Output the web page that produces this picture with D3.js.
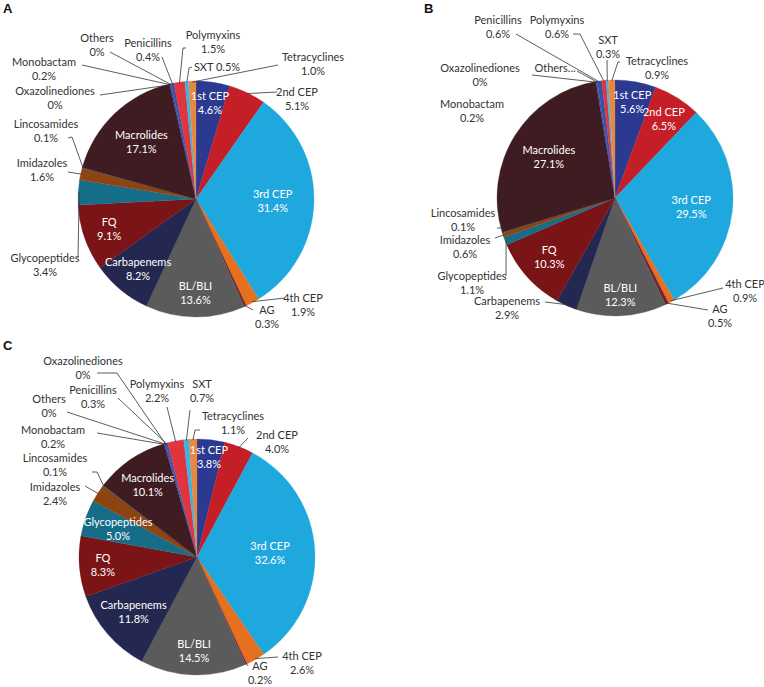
<!DOCTYPE html>
<html><head><meta charset="utf-8">
<script src="https://cdn.jsdelivr.net/npm/d3@7"></script>
<style>
body{margin:0;background:#fff;}
text{font-family:Lato,"Open Sans",sans-serif;font-size:11px;}
</style></head>
<body><svg id="chart" width="764" height="687"></svg>
<script>
// ---- data ----
const categories = ["1st CEP","2nd CEP","3rd CEP","4th CEP","AG","BL/BLI","Carbapenems","FQ",
  "Glycopeptides","Imidazoles","Lincosamides","Macrolides","Monobactam","Oxazolinediones","Others",
  "Penicillins","Polymyxins","SXT","Tetracyclines"];
const valuesA = [4.6,5.1,31.4,1.9,0.3,13.6,8.2,9.1,3.4,1.6,0.1,17.1,0.2,0,0,0.4,1.5,0.5,1.0];
const valuesB = [5.6,6.5,29.5,0.9,0.5,12.3,2.9,10.3,1.1,0.6,0.1,27.1,0.2,0,0,0.6,0.6,0.3,0.9];
const valuesC = [3.8,4.0,32.6,2.6,0.2,14.5,11.8,8.3,5.0,2.4,0.1,10.1,0.2,0,0,0.3,2.2,0.7,1.1];
const panelLetters = ["A","B","C"];
const colors = ["#2b3990","#c41e26","#1fa8de","#e5701f","#6d2434","#5b5b5b","#242850","#7b1416",
  "#166d88","#8c4413","#4a4a4a","#3e1c21","#3b4aa0","#c41e26","#1fa8de","#3b50a5","#e0353e","#35b6e8","#e8873f"];

// ---- label layout (offsets from pie centre) ----
const R = 118;
const panels = [
 {letter:"A", values:valuesA, c:[196,199], lp:[3,13],
  inner:[["1st CEP",0.82],["3rd CEP",0.65],["Macrolides",0.67],["FQ",0.78],["Carbapenems",0.77],["BL/BLI",0.8]],
  outer:[
   {n:"Others",t:[-99,-154],p:[[-86,-147]]},
   {n:"Penicillins",t:[-48,-149],p:[[-34,-142]]},
   {n:"Polymyxins",t:[17,-157],p:[[-10,-151],[-13,-151]]},
   {n:"SXT",t:[21,-132],one:true,p:[[-4,-132],[-7,-131]]},
   {n:"Tetracyclines",t:[117,-135],p:[[82,-134]]},
   {n:"2nd CEP",t:[101,-100],p:[[81,-107]]},
   {n:"Monobactam",t:[-152,-130],p:[[-114,-134]]},
   {n:"Oxazolinediones",t:[-141,-101],p:[[-96,-104]]},
   {n:"Lincosamides",t:[-150,-68],p:[[-128,-61],[-124,-62]]},
   {n:"Imidazoles",t:[-154,-29],p:[[-128,-27]]},
   {n:"Glycopeptides",t:[-151,66],p:[[-118,59]]},
   {n:"4th CEP",t:[107,106],p:[[89,99]]},
   {n:"AG",t:[71,118],p:[[57,111]]}
  ]},
 {letter:"B", values:valuesB, c:[615,198], lp:[424,13],
  inner:[["1st CEP",0.83],["2nd CEP",0.785],["Macrolides",0.66],["3rd CEP",0.65],["FQ",0.75],["BL/BLI",0.82]],
  outer:[
   {n:"Penicillins",t:[-117,-171],p:[[-99,-164]]},
   {n:"Polymyxins",t:[-58,-171],p:[[-42,-164],[-35,-164]]},
   {n:"SXT",t:[-7,-151],p:[[-8,-138]]},
   {n:"Tetracyclines",t:[42,-130],p:[[5,-136],[3,-136]]},
   {n:"Oxazolinediones",t:[-135,-123],p:[[-83,-123]]},
   {n:"Others",label:"Others...",t:[-60,-130],one:true,p:[[-38,-127]]},
   {n:"Monobactam",t:[-143,-87],p:null},
   {n:"Lincosamides",t:[-152,22],p:[[-118,30],[-113,30]]},
   {n:"Imidazoles",t:[-150,49],p:[[-120,40]]},
   {n:"Glycopeptides",t:[-143,85],p:[[-109,78]]},
   {n:"Carbapenems",t:[-108,110],p:[[-70,104]]},
   {n:"4th CEP",t:[130,93],p:[[108,90]]},
   {n:"AG",t:[105,118],p:[[93,112]]}
  ]},
 {letter:"C", values:valuesC, c:[197,557], lp:[3,350],
  inner:[["1st CEP",0.85],["Macrolides",0.74],["Glycopeptides",0.71],["FQ",0.8],["3rd CEP",0.62],["Carbapenems",0.71],["BL/BLI",0.8]],
  outer:[
   {n:"Oxazolinediones",t:[-114,-189],p:[[-100,-184],[-80,-184]]},
   {n:"Penicillins",t:[-104,-160],p:[[-79,-159]]},
   {n:"Others",t:[-148,-151],p:[[-130,-145]]},
   {n:"Monobactam",t:[-144,-120],p:[[-100,-124]]},
   {n:"Polymyxins",t:[-40,-166],p:[[-30,-150]]},
   {n:"SXT",t:[5,-166],p:[[-7,-147]]},
   {n:"Tetracyclines",t:[36,-134],p:[[3,-127],[-2,-127]]},
   {n:"2nd CEP",t:[80,-115],p:[[51,-119]]},
   {n:"Lincosamides",t:[-142,-92],p:[[-105,-85],[-100,-85]]},
   {n:"Imidazoles",t:[-142,-63],p:[[-112,-71]]},
   {n:"4th CEP",t:[105,106],p:[[81,100]]},
   {n:"AG",t:[63,116],p:[[51,109]]}
  ]}
];

const fmt = v => v === 0 ? "0%" : v.toFixed(1) + "%";
const svg = d3.select("#chart");
const arc = d3.arc().innerRadius(0).outerRadius(R);
const polar = (a, rr) => [rr*Math.sin(a), -rr*Math.cos(a)];
const midA = d => (d.startAngle + d.endAngle)/2;

panels.forEach(P => {
  svg.append("text").attr("x",P.lp[0]).attr("y",P.lp[1])
    .style("font-family","'Liberation Sans',Arial,sans-serif").style("font-weight","bold").style("font-size","13px")
    .attr("fill","#111").text(P.letter);
  const g = svg.append("g").attr("transform",`translate(${P.c[0]},${P.c[1]})`);
  const arcs = d3.pie().sort(null).value(d=>d)(P.values);
  g.selectAll("path.slice").data(arcs).join("path").attr("class","slice")
    .attr("d",arc).attr("fill",(d,i)=>colors[i]).attr("stroke",(d,i)=>d.value>0?colors[i]:"none").attr("stroke-width",0.3);

  // inner labels
  P.inner.forEach(([name,k]) => {
    const i = categories.indexOf(name);
    const [x,y] = polar(midA(arcs[i]), k*R);
    const t = g.append("text").attr("text-anchor","middle").attr("fill","#fff");
    t.append("tspan").attr("x",x).attr("y",y-3).text(name);
    t.append("tspan").attr("x",x).attr("y",y+11).text(fmt(P.values[i]));
  });

  // outer labels with leader lines
  P.outer.forEach(o => {
    const i = categories.indexOf(o.n);
    if (o.p) {
      const end = polar(midA(arcs[i]), R-1);
      const pts = o.p.concat([end]);
      g.append("path").attr("d", d3.line()(pts)).attr("fill","none")
        .attr("stroke","#333").attr("stroke-width",0.8);
    }
    const t = g.append("text").attr("text-anchor","middle").attr("fill","#333");
    if (o.one) {
      const lbl = o.label || (o.n + " " + fmt(P.values[i]));
      t.append("tspan").attr("x",o.t[0]).attr("y",o.t[1]+4).text(lbl);
    } else {
      t.append("tspan").attr("x",o.t[0]).attr("y",o.t[1]-3).text(o.label || o.n);
      t.append("tspan").attr("x",o.t[0]).attr("y",o.t[1]+11).text(fmt(P.values[i]));
    }
  });
});
</script></body></html>
